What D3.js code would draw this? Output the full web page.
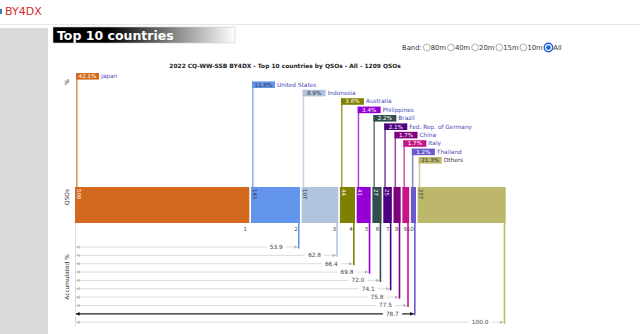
<!DOCTYPE html>
<html><head><meta charset="utf-8">
<script src="https://cdn.jsdelivr.net/npm/d3@7"></script>
<style>
html,body{margin:0;padding:0;background:#fff;overflow:hidden}
svg{display:block;font-family:"DejaVu Sans",Verdana,sans-serif}
</style></head><body>
<svg id="page" width="640" height="334"></svg>
<script>
// Top 10 countries by QSOs for the contest log
const countries = ["Japan","United States","Indonesia","Australia","Philippines","Brazil","Fed. Rep. of Germany","China","Italy","Thailand","Others"];
const qsos = [509,143,107,44,41,27,25,21,20,15,257];
const colors = ["chocolate","cornflowerblue","lightsteelblue","olive","darkviolet","darkslategray","indigo","purple","mediumvioletred","slateblue","darkkhaki"];
const bands = ["80m","40m","20m","15m","10m","All"];
const selectedBand = "All";
const callsign = "BY4DX";
const sectionTitle = "Top 10 countries";
const chartTitle = "2022 CQ-WW-SSB BY4DX - Top 10 countries by QSOs - All - 1209 QSOs";

const svg = d3.select("#page");
const total = d3.sum(qsos);
const font = '"DejaVu Sans",Verdana,sans-serif';

// ---- page chrome ----
svg.append("rect").attr("x",0).attr("y",9).attr("width",2).attr("height",5).attr("fill","#3a78c8");
svg.append("text").attr("x",5).attr("y",14.5).attr("font-size",11).attr("fill","#d42a2a").text(callsign);
svg.append("line").attr("x1",0).attr("x2",640).attr("y1",24.5).attr("y2",24.5).attr("stroke","#e6e6e6");
svg.append("rect").attr("x",0).attr("y",28).attr("width",48).attr("height",306).attr("fill","#dadada");

const defs = svg.append("defs");
const grad = defs.append("linearGradient").attr("id","hdr");
grad.append("stop").attr("offset","0%").attr("stop-color","#000");
grad.append("stop").attr("offset","30%").attr("stop-color","#000");
grad.append("stop").attr("offset","100%").attr("stop-color","#fff");
svg.append("rect").attr("x",53).attr("y",27).attr("width",182).attr("height",16)
  .attr("fill","url(#hdr)").attr("stroke","#ccc").attr("stroke-width",0.6);
svg.append("text").attr("x",57).attr("y",39.5).attr("font-size",12.5).attr("font-weight","bold")
  .attr("fill","#fff").text(sectionTitle);

// ---- band selector ----
const bandG = svg.append("g").attr("font-size",6.8).attr("fill","#333");
let bx = 402;
const bandLabel = bandG.append("text").attr("x",bx).attr("y",50).text("Band:");
bx += bandLabel.node().getComputedTextLength() + 1.2;
bands.forEach(b => {
  const sel = b === selectedBand;
  const r = sel ? 4.2 : 3.4;
  const cx = bx + r + 0.4;
  if (sel) {
    bandG.append("circle").attr("cx",cx).attr("cy",47.5).attr("r",r).attr("fill","#fff").attr("stroke","#1a62d6").attr("stroke-width",1.4);
    bandG.append("circle").attr("cx",cx).attr("cy",47.5).attr("r",2.3).attr("fill","#1a62d6");
  } else {
    bandG.append("circle").attr("cx",cx).attr("cy",47.5).attr("r",r).attr("fill","#fff").attr("stroke","#8a8a8a").attr("stroke-width",0.7);
  }
  const t = bandG.append("text").attr("x",cx + r + 0.6).attr("y",50).text(b);
  bx = cx + r + 0.6 + t.node().getComputedTextLength() + 1.1;
});

// ---- chart ----
const gap = 1.66;
const x = d3.scaleLinear().domain([0,total]).range([75, 75 + total*0.3425]);
const w = v => x(v) - x(0);
let cum = 0;
const items = qsos.map((v,i) => {
  const start = cum; cum += v;
  const bx0 = x(start) + i*gap;
  return {i, name: countries[i], v, color: colors[i], x0: bx0, x1: bx0 + w(v), acc: cum/total*100};
});
const lum = c => { const r = d3.rgb(c); return 0.299*r.r + 0.587*r.g + 0.114*r.b; };
const textOn = c => lum(c) > 140 ? "#333" : "#fff";

const barTop = 187, barH = 36, barBot = barTop + barH;
const labelY = d3.scaleLinear().domain([0,10]).range([73, 157]);
const rowY = d3.scaleLinear().domain([1,10]).range([247, 322.2]);

const chart = svg.append("g").attr("font-family",font);
chart.append("text").attr("x",285).attr("y",68).attr("text-anchor","middle")
  .attr("font-size",5.9).attr("font-weight","bold").attr("fill","#222").text(chartTitle);

// axis titles
[["%",82],["QSOs",197],["Accumulated %",277]].forEach(([t,y]) => {
  chart.append("text").attr("transform",`translate(69,${y}) rotate(-90)`).attr("text-anchor","middle")
    .attr("font-size",5.8).attr("fill","#333").text(t);
});

// leader lines up to the share labels
chart.selectAll(".lead").data(items).join("line")
  .attr("x1",d=>d.x0+1.8).attr("x2",d=>d.x0+1.8)
  .attr("y1",d=>labelY(d.i)).attr("y2",barTop)
  .attr("stroke",d=>d.color).attr("stroke-width",1.5).attr("stroke-opacity",0.75);

const lab = chart.selectAll(".lab").data(items).join("g");
lab.append("rect").attr("x",d=>d.x0+1).attr("y",d=>labelY(d.i)).attr("width",23).attr("height",6.6)
  .attr("fill",d=>d.color);
lab.append("text").attr("x",d=>d.x0+12.5).attr("y",d=>labelY(d.i)+5.1).attr("text-anchor","middle")
  .attr("font-size",5.6).attr("fill",d=>textOn(d.color)).text(d=>(d.v/total*100).toFixed(1)+"%");
lab.append("text").attr("x",d=>d.x0+26).attr("y",d=>labelY(d.i)+5.1)
  .attr("font-size",5.8).attr("fill",d=>d.i===10?"#333":"#4a4ab8").text(d=>d.name);

// QSO bars
chart.selectAll(".bar").data(items).join("rect")
  .attr("x",d=>d.x0).attr("y",barTop).attr("width",d=>d.x1-d.x0).attr("height",barH)
  .attr("fill",d=>d.color);
chart.selectAll(".val").data(items.filter(d=>d.x1-d.x0>8)).join("text")
  .attr("transform",d=>`translate(${d.x0+1.8},${barTop+2}) rotate(90)`)
  .attr("font-size",5.4).attr("fill",d=>textOn(d.color)).text(d=>d.v);

// rank numbers under the bars
chart.selectAll(".rank").data(items.slice(0,10)).join("text")
  .attr("x",d=>d.x1-2.2).attr("y",231).attr("text-anchor","end")
  .attr("font-size",5.6).attr("fill","#444").text(d=>d.i+1);

// accumulated share rows
const mk = (id,col) => {
  defs.append("marker").attr("id",id).attr("viewBox","0 0 4 4").attr("refX",4).attr("refY",2)
    .attr("markerUnits","userSpaceOnUse").attr("markerWidth",3.6).attr("markerHeight",3.6)
    .attr("orient","auto-start-reverse")
    .append("path").attr("d","M0,0L4,2L0,4Z").attr("fill",col);
};
mk("arL","#bbb"); mk("arD","#111");

chart.append("line").attr("x1",75.5).attr("x2",75.5).attr("y1",barBot).attr("y2",326)
  .attr("stroke","#d4d4d4").attr("stroke-width",0.8);

const rows = items.slice(1);
rows.forEach(d => {
  const y = rowY(d.i), bold = d.i === 9;
  const endX = d.x1 - 1.2;
  chart.append("line").attr("x1",76).attr("x2",endX - 1).attr("y1",y).attr("y2",y)
    .attr("stroke",bold?"#222":"#d2d2d2").attr("stroke-width",bold?1.3:0.8)
    .attr("marker-start",`url(#${bold?"arD":"arL"})`).attr("marker-end",`url(#${bold?"arD":"arL"})`);
  const t = chart.append("text").attr("x",endX - 16).attr("y",y+2).attr("text-anchor","end")
    .attr("font-size",5.8).attr("fill","#444").text(d.acc.toFixed(1));
  const bb = t.node().getBBox();
  chart.insert("rect", () => t.node()).attr("x",bb.x-3).attr("y",y-1.5).attr("width",bb.width+6).attr("height",3)
    .attr("fill","#fff");
});

// drop lines from each bar end to its accumulated row
chart.selectAll(".drop").data(rows).join("line")
  .attr("x1",d=>d.x1-1.2).attr("x2",d=>d.x1-1.2)
  .attr("y1",barBot).attr("y2",d=>rowY(d.i)+1.5)
  .attr("stroke",d=>d.color).attr("stroke-width",1.6);
</script>
</body></html>
